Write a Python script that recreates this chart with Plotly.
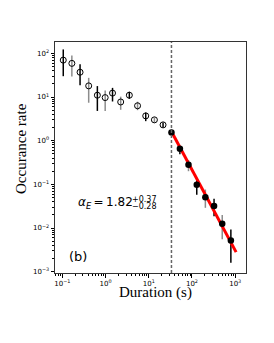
import plotly.graph_objects as go

# ---- data ----
duration = [0.105, 0.166, 0.257, 0.407, 0.646, 0.98, 1.45, 2.24, 3.55, 5.5,
            8.5, 13.5, 21.4, 33.5, 52.5, 83, 129, 204, 324, 501, 794]
rate = [70, 59, 37, 18, 11, 9.7, 12.3, 7.7, 11, 6.3,
        3.7, 3.0, 2.3, 1.55, 0.65, 0.28, 0.098, 0.051, 0.032, 0.0126, 0.0052]
rate_hi = [123, 89, 56, 27.5, 17.8, 14.1, 16.2, 10.2, 13.2, 7.8,
           4.4, 3.4, 2.6, 1.75, 0.76, 0.36, 0.129, 0.076, 0.047, 0.020, 0.0093]
rate_lo = [30, 29.5, 18.6, 7.4, 4.8, 4.8, 7.9, 5.1, 9.1, 5.0,
           2.8, 2.6, 2.0, 1.38, 0.49, 0.20, 0.058, 0.029, 0.0186, 0.0055, 0.0016]
threshold = 33.5
n_open = 13          # points below threshold are open circles
fit_x = [33.5, 1050]
fit_y = [1.62, 0.0028]
alpha_text = "<i>α</i><sub><i>E</i></sub>\u2009=\u20091.82"
alpha_plus = "+0.37"
alpha_minus = "−0.28"
panel_label = "(b)"
x_title = "Duration (s)"
y_title = "Occurance rate"
x_tickvals = [0.1, 1, 10, 100, 1000]
x_ticktext = ["10<sup>−1</sup>", "10<sup>0</sup>", "10<sup>1</sup>", "10<sup>2</sup>", "10<sup>3</sup>"]
y_tickvals = [0.001, 0.01, 0.1, 1, 10, 100]
y_ticktext = ["10<sup>−3</sup>", "10<sup>−2</sup>", "10<sup>−1</sup>", "10<sup>0</sup>", "10<sup>1</sup>", "10<sup>2</sup>"]

W, H = 274, 343
OFF = 8   # page body margin
L, R, T, B = 55 - OFF, 246 - OFF, 42 - OFF, 273 - OFF


def px(x, y):
    # x, y are screenshot pixels; convert to paper coordinates
    x -= OFF
    y -= OFF
    return (x - L) / (R - L), (B - y) / (B - T)


fig = go.Figure()

# error bars: alternating black / gray
for color, parity in (("black", 0), ("#8c8c8c", 1)):
    xs, ys = [], []
    for i, d in enumerate(duration):
        if i % 2 == parity:
            xs += [d, d, None]
            ys += [rate_lo[i], rate_hi[i], None]
    fig.add_trace(go.Scatter(x=xs, y=ys, mode="lines",
                             line=dict(color=color, width=1.5),
                             hoverinfo="skip", showlegend=False))

fig.add_trace(go.Scatter(x=fit_x, y=fit_y, mode="lines",
                         line=dict(color="red", width=3), showlegend=False))

fig.add_trace(go.Scatter(x=duration[:n_open], y=rate[:n_open], mode="markers",
                         marker=dict(symbol="circle-open", size=6,
                                     color="black", line=dict(width=1)),
                         showlegend=False))
fig.add_trace(go.Scatter(x=duration[n_open:], y=rate[n_open:], mode="markers",
                         marker=dict(symbol="circle", size=6.5, color="black"),
                         showlegend=False))

fig.add_shape(type="line", x0=threshold, x1=threshold, y0=0, y1=1,
              xref="x", yref="paper",
              line=dict(color="#666666", width=1.5, dash="3px,2px"))

tickfont = dict(family="DejaVu Sans", size=7, color="black")
minor_vals = [m * 10 ** e for e in range(-4, 4) for m in range(2, 10)]

common = dict(type="log", ticks="outside", ticklen=3.5, tickwidth=0.8,
              tickcolor="black", automargin=False,
              minor=dict(tickvals=minor_vals, ticks="outside", ticklen=2,
                         tickwidth=0.6, tickcolor="black"),
              showline=True, linecolor="#333333", linewidth=1, mirror=True,
              showgrid=False, zeroline=False, tickfont=tickfont)
fig.update_xaxes(range=[-1.17, 3.25], tickvals=x_tickvals, ticktext=x_ticktext,
                 **common)
fig.update_yaxes(range=[-3.03, 2.26], tickvals=y_tickvals, ticktext=y_ticktext,
                 **common)

ann = []
ax, ay = px(76, 203.5)
ann.append(dict(x=ax, y=ay, xref="paper", yref="paper", text=alpha_text,
                xanchor="left", yanchor="middle", showarrow=False,
                font=dict(family="DejaVu Sans", size=12, color="black")))
ax, ay = px(129.5, 200)
ann.append(dict(x=ax, y=ay, xref="paper", yref="paper", text=alpha_plus,
                xanchor="left", yanchor="middle", showarrow=False,
                font=dict(family="DejaVu Sans", size=8, color="black")))
ax, ay = px(129.5, 206.7)
ann.append(dict(x=ax, y=ay, xref="paper", yref="paper", text=alpha_minus,
                xanchor="left", yanchor="middle", showarrow=False,
                font=dict(family="DejaVu Sans", size=8, color="black")))
ax, ay = px(67, 256.5)
ann.append(dict(x=ax, y=ay, xref="paper", yref="paper", text=panel_label,
                xanchor="left", yanchor="middle", showarrow=False,
                font=dict(family="DejaVu Sans", size=13, color="black")))
ax, ay = px(155, 292)
ann.append(dict(x=ax, y=ay, xref="paper", yref="paper", text=x_title,
                xanchor="center", yanchor="middle", showarrow=False,
                font=dict(family="Liberation Serif", size=15, color="black")))
ax, ay = px(21, 149)
ann.append(dict(x=ax, y=ay, xref="paper", yref="paper", text=y_title,
                xanchor="center", yanchor="middle", showarrow=False, textangle=-90,
                font=dict(family="Liberation Serif", size=15, color="black")))

fig.update_layout(width=W, height=H, margin=dict(l=L, r=W - R, t=T, b=H - B),
                  paper_bgcolor="white", plot_bgcolor="white",
                  annotations=ann, showlegend=False)

fig.write_html("out.html")
